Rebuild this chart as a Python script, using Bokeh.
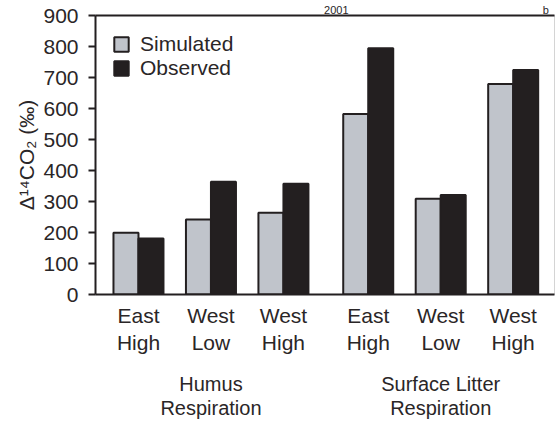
from bokeh.plotting import figure
from bokeh.models import (ColumnDataSource, Range1d, LinearAxis, FixedTicker,
                          Legend, LegendItem)
from bokeh.embed import file_html
from bokeh.resources import INLINE

# ---- data ----
groups = ["Humus\nRespiration", "Surface Litter\nRespiration"]
sites = ["East\nHigh", "West\nLow", "West\nHigh"]
simulated = [199, 242, 264, 582, 309, 679]
observed = [181, 364, 357, 794, 321, 724]
y_ticks = [0, 100, 200, 300, 400, 500, 600, 700, 800, 900]
top_texts = ["2001", "b"]

FONT = "Liberation Sans"
TXT = "#2a2627"
DARK = "#231f20"
GRAY = "#c0c4cb"

GAP = 3.17  # offset between the two groups (layout)
BW = 0.345

xs = []
labels = {}
for g in range(len(groups)):
    for i, s in enumerate(sites):
        x = g * GAP + i
        xs.append(x)
        labels[x] = s
group_centers = {g * GAP + 1: name for g, name in enumerate(groups)}
top_pos = [2.73, 5.62]

src = ColumnDataSource(dict(
    x_sim=[x - BW / 2 for x in xs],
    x_obs=[x + BW / 2 for x in xs],
    sim=simulated, obs=observed))

p = figure(width=556, height=421, output_backend="svg", toolbar_location=None,
           x_range=Range1d(-0.593, 5.74), y_range=Range1d(0, 900),
           min_border_left=95, min_border_right=2, min_border_top=14,
           min_border_bottom=110, x_axis_type=None, y_axis_type=None)
p.grid.visible = False
p.outline_line_color = "#d4d4d4"
p.outline_line_width = 1
p.background_fill_color = "white"
p.border_fill_color = "white"

r_sim = p.vbar(x="x_sim", top="sim", width=BW, source=src, fill_color=GRAY,
               line_color=DARK, line_width=2)
r_obs = p.vbar(x="x_obs", top="obs", width=BW, source=src, fill_color=DARK,
               line_color=DARK, line_width=2)

# left axis
ya = LinearAxis(ticker=FixedTicker(ticks=y_ticks))
ya.axis_line_color = DARK
ya.axis_line_width = 2
ya.major_tick_line_color = DARK
ya.major_tick_line_width = 2
ya.major_tick_out = 7
ya.major_tick_in = 0
ya.minor_tick_line_color = None
ya.major_label_text_font = FONT
ya.major_label_text_font_size = "21px"
ya.major_label_text_color = TXT
ya.major_label_standoff = 10
ya.axis_label = "Δ¹⁴CO₂ (‰)"
ya.axis_label_text_font = FONT
ya.axis_label_text_font_size = "21px"
ya.axis_label_text_font_style = "normal"
ya.axis_label_text_color = TXT
ya.axis_label_standoff = 2
p.add_layout(ya, "left")

# top spine, carrying the small header texts
ta = LinearAxis(ticker=FixedTicker(ticks=top_pos))
ta.major_label_overrides = dict(zip(top_pos, top_texts))
ta.axis_line_color = DARK
ta.axis_line_width = 2
ta.major_label_text_font = FONT
ta.major_label_text_font_size = "11px"
ta.major_label_text_color = TXT
ta.major_label_standoff = 0
ta.major_tick_line_color = None
ta.major_tick_out = 0
ta.major_tick_in = 0
ta.minor_tick_line_color = None
p.add_layout(ta, "above")

# bottom axis with site labels
xa = LinearAxis(ticker=FixedTicker(ticks=xs))
xa.major_label_overrides = labels
xa.axis_line_color = DARK
xa.axis_line_width = 2
xa.major_tick_line_color = None
xa.minor_tick_line_color = None
xa.major_label_text_font = FONT
xa.major_label_text_font_size = "21px"
xa.major_label_text_color = TXT
xa.major_label_standoff = 3
p.add_layout(xa, "below")

# group labels axis
ga = LinearAxis(ticker=FixedTicker(ticks=list(group_centers.keys())))
ga.major_label_overrides = group_centers
ga.axis_line_color = None
ga.major_tick_line_color = None
ga.minor_tick_line_color = None
ga.major_label_text_font = FONT
ga.major_label_text_font_size = "20px"
ga.major_label_text_color = TXT
ga.major_label_text_line_height = 1.1
ga.major_label_standoff = 9
p.add_layout(ga, "below")

legend = Legend(items=[LegendItem(label="Simulated", renderers=[r_sim]),
                       LegendItem(label="Observed", renderers=[r_obs])],
                location="top_left", margin=17, padding=0, spacing=-2,
                glyph_height=18, glyph_width=18, label_height=18,
                label_standoff=10, label_text_font=FONT,
                label_text_font_size="21px", label_text_color=TXT,
                border_line_color=None, background_fill_alpha=0)
p.add_layout(legend)

open("out.html", "w").write(file_html(p, INLINE))
